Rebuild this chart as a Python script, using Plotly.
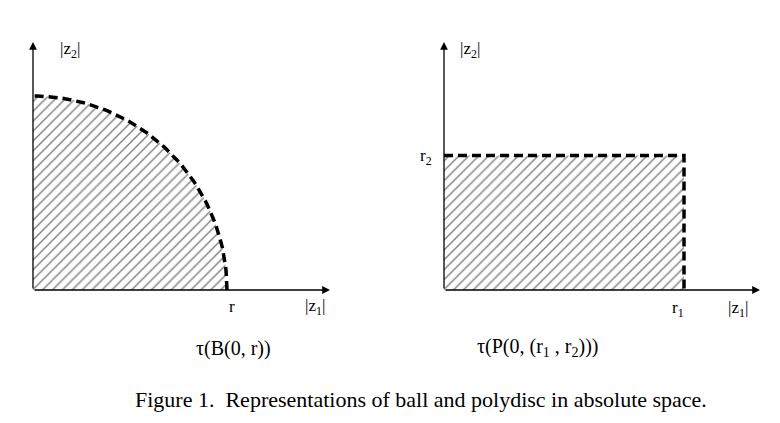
import numpy as np
import plotly.graph_objects as go

r = 1.0
r1, r2 = 1.0, 0.56
theta = np.linspace(0, np.pi/2, 80)
ball_x = list(r*np.cos(theta)) + [0, r]
ball_y = list(r*np.sin(theta)) + [0, 0]

F = "Liberation Serif"
fig = go.Figure()
pat = dict(shape="/", size=7, solidity=0.2, fgcolor="black", bgcolor="white")
fig.add_trace(go.Scatter(x=ball_x, y=ball_y, fill="toself", fillpattern=pat, fillcolor="white",
                         line=dict(width=0), mode="none", xaxis="x", yaxis="y"))
fig.add_trace(go.Scatter(x=list(r*np.cos(theta)), y=list(r*np.sin(theta)), mode="lines",
                         line=dict(color="black", width=3.5, dash="9px,5px"), xaxis="x", yaxis="y"))
fig.add_trace(go.Scatter(x=[0, r1, r1, 0, 0], y=[0, 0, r2, r2, 0], fill="toself", fillpattern=pat,
                         fillcolor="white", mode="none", xaxis="x2", yaxis="y2"))
fig.add_trace(go.Scatter(x=[0, r1, r1], y=[r2, r2, 0], mode="lines",
                         line=dict(color="black", width=3.5, dash="9px,5px"), xaxis="x2", yaxis="y2"))

ax = dict(showgrid=False, zeroline=False, showticklabels=False, ticks="")
fig.update_layout(
    width=780, height=423, margin=dict(l=0, r=0, t=0, b=0), showlegend=False,
    plot_bgcolor="white", paper_bgcolor="white",
    xaxis=dict(ax, domain=[33/780, 330/780], range=[0, 297/194]),
    yaxis=dict(ax, domain=[133/423, 381/423], range=[0, 248/194]),
    xaxis2=dict(ax, domain=[444/780, 760/780], range=[0, 316/240]),
    yaxis2=dict(ax, domain=[133/423, 381/423], range=[0, 248/240]),
)
def arrow(xr, yr, x, y):
    fig.add_annotation(xref=xr, yref=yr, axref=xr, ayref=yr, x=x, y=y, ax=0, ay=0,
                       showarrow=True, arrowhead=2, arrowsize=1.2, arrowwidth=1.3,
                       arrowcolor="black", text="")
arrow("x", "y", 297/194, 0); arrow("x", "y", 0, 248/194)
arrow("x2", "y2", 316/240, 0); arrow("x2", "y2", 0, 248/240)

def txt(x, y, s, size=17, **k):
    fig.add_annotation(xref="paper", yref="paper", x=x/780, y=1-y/423, text=s, showarrow=False,
                       font=dict(family=F, size=size, color="black"), **k)
txt(58, 37, "|z<sub>2</sub>|"); txt(470, 37, "|z<sub>2</sub>|")
txt(227, 318, "r"); txt(315, 320, "|z<sub>1</sub>|")
txt(686, 322, "r<sub>1</sub>"); txt(750, 322, "|z<sub>1</sub>|")
txt(426, 157, "r<sub>2</sub>")
txt(194, 362, "τ(B(0, r))", size=20)
txt(600, 362, "τ(P(0, (r<sub>1</sub> , r<sub>2</sub>)))", size=20)
txt(421, 414, "Figure 1.  Representations of ball and polydisc in absolute space.", size=22)
fig.write_html("out.html", config={"displayModeBar": False},
               post_script="document.body.style.margin='0';window.dispatchEvent(new Event('resize'));")
